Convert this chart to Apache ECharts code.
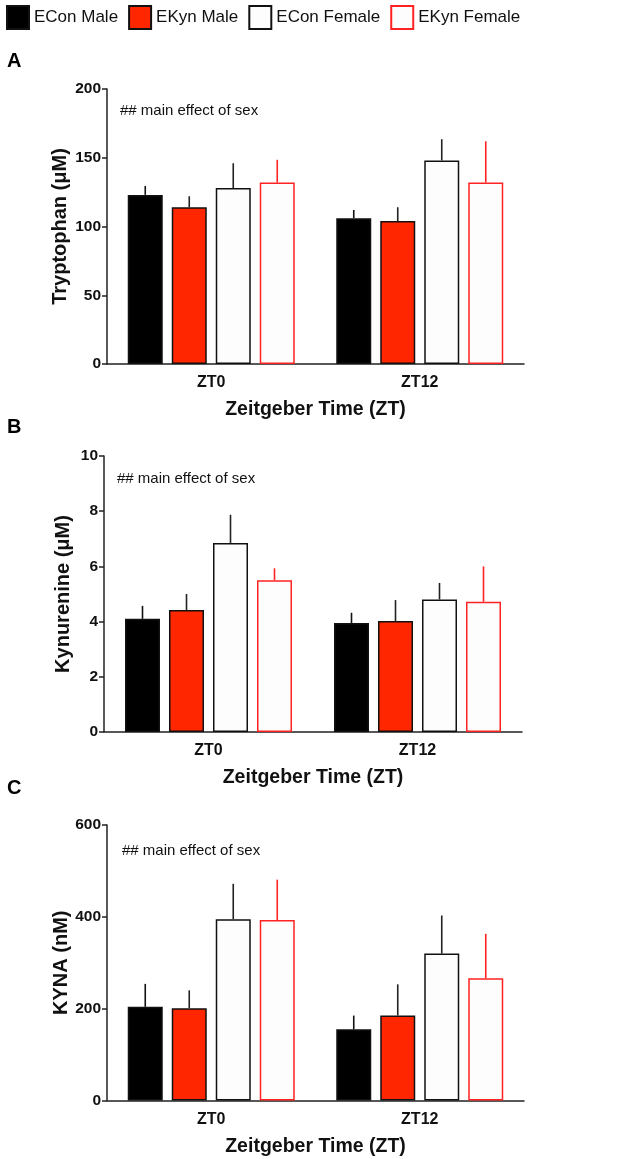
<!DOCTYPE html>
<html>
<head>
<meta charset="utf-8">
<script src="https://cdn.jsdelivr.net/npm/echarts@6/dist/echarts.min.js"></script>
<style>
html,body{margin:0;padding:0;background:#fff;}
#chart{width:630px;height:1159px;}
</style>
</head>
<body>
<div id="chart"></div>
<script>
// ---- data ----
const groups = ['ECon Male', 'EKyn Male', 'ECon Female', 'EKyn Female'];
const timepoints = ['ZT0', 'ZT12'];

// Tryptophan (uM): per group [ZT0, ZT12]
const trpMean = [[123, 106], [114, 104], [128, 148], [132, 132]];
const trpSem  = [[6.5, 6], [8, 10], [18, 15.5], [16.5, 30]];

// Kynurenine (uM)
const kynMean = [[4.1, 3.95], [4.42, 4.02], [6.85, 4.8], [5.5, 4.72]];
const kynSem  = [[0.47, 0.37], [0.58, 0.76], [1.02, 0.6], [0.43, 1.28]];

// KYNA (nM)
const kynaMean = [[204, 155], [201, 185], [395, 320], [393, 266]];
const kynaSem  = [[50, 30], [39, 68], [77, 83], [88, 97]];

const panelLetters = ['A', 'B', 'C'];
const yNames = ['Tryptophan (μM)', 'Kynurenine (μM)', 'KYNA (nM)'];
const yMax = [200, 10, 600];
const yInterval = [50, 2, 200];
const xName = 'Zeitgeber Time (ZT)';
const note = '## main effect of sex';

// ---- styles ----
const FONT = "'Liberation Sans', Arial, sans-serif";
const fills   = ['#000000', '#ff2600', '#fdfdfd', '#fdfdfd'];
const borders = ['#111111', '#111111', '#111111', '#ff2222'];
const errColors = ['#111111', '#222222', '#222222', '#ff2222'];
const BAR_W = 35, BAR_GAP = 9;
const offsets = groups.map((g, i) => (i - 1.5) * (BAR_W + BAR_GAP));

const grids = [
  { left: 107, right: 106, top: 89, bottom: 795 },
  { left: 104, right: 108, top: 456, bottom: 427 },
  { left: 107, right: 106, top: 825, bottom: 58.5 }
];
const yNameGaps = [37, 31, 36];
const noteX = [120, 117, 122];
const noteY = [111, 479, 851];
const letterY = [62, 428, 789];

const means = [trpMean, kynMean, kynaMean];
const sems = [trpSem, kynSem, kynaSem];

const xAxes = [], yAxes = [], series = [], graphics = [];
grids.forEach((g, p) => {
  xAxes.push({
    gridIndex: p, type: 'category', data: timepoints,
    name: xName, nameLocation: 'middle', nameGap: 36, nameMoveOverlap: false,
    nameTextStyle: { fontFamily: FONT, fontWeight: 'bold', fontSize: 19.5, color: '#111' },
    axisLine: { lineStyle: { color: '#222', width: 1.5 } },
    axisTick: { alignWithLabel: true, length: 5, lineStyle: { color: '#222', width: 1.5 } },
    axisLabel: { fontFamily: FONT, fontWeight: 'bold', fontSize: 16, color: '#111', margin: 11 }
  });
  yAxes.push({
    gridIndex: p, type: 'value', min: 0, max: yMax[p], interval: yInterval[p],
    name: yNames[p], nameLocation: 'middle', nameGap: yNameGaps[p], nameRotate: 90,
    nameMoveOverlap: false,
    nameTextStyle: { fontFamily: FONT, fontWeight: 'bold', fontSize: 20, color: '#111' },
    axisLine: { show: true, lineStyle: { color: '#222', width: 1.5 } },
    axisTick: { show: true, length: 5, lineStyle: { color: '#222', width: 1.5 } },
    axisLabel: { fontFamily: FONT, fontWeight: 'bold', fontSize: 15.5, color: '#111', margin: 6 },
    splitLine: { show: false }
  });
  groups.forEach((name, i) => {
    series.push({
      type: 'bar', name: name, xAxisIndex: p, yAxisIndex: p,
      data: means[p][i],
      barWidth: BAR_W, barGap: (BAR_GAP / BAR_W * 100) + '%',
      itemStyle: { color: fills[i], borderColor: borders[i], borderWidth: 1.5 },
      emphasis: { disabled: true },
      animation: false
    });
  });
  groups.forEach((name, i) => {
    const d = means[p][i].map((m, k) => [k, m, m + sems[p][i][k]]);
    series.push({
      type: 'custom', xAxisIndex: p, yAxisIndex: p,
      data: d, z: 5, animation: false,
      renderItem: function (params, api) {
        const a = api.coord([api.value(0), api.value(1)]);
        const b = api.coord([api.value(0), api.value(2)]);
        return {
          type: 'line',
          shape: { x1: a[0] + offsets[i], y1: a[1], x2: b[0] + offsets[i], y2: b[1] },
          style: { stroke: errColors[i], lineWidth: 1.6 }
        };
      }
    });
  });
  graphics.push({
    type: 'text', left: 7, top: letterY[p] - 11,
    style: { text: panelLetters[p], font: "bold 20px 'Liberation Sans', Arial", fill: '#000' }
  });
  graphics.push({
    type: 'text', x: noteX[p], y: noteY[p],
    style: { text: note, font: "15px 'Liberation Sans', Arial", fill: '#111', textVerticalAlign: 'middle' }
  });
});

const chart = echarts.init(document.getElementById('chart'), null, { renderer: 'canvas' });
chart.setOption({
  animation: false,
  backgroundColor: '#fff',
  legend: {
    data: groups, left: 6, top: 5, padding: 0, icon: 'rect',
    itemWidth: 22, itemHeight: 23, itemGap: 10,
    textStyle: { fontFamily: FONT, fontSize: 17, color: '#111' },
    selectedMode: false
  },
  grid: grids,
  xAxis: xAxes,
  yAxis: yAxes,
  series: series,
  graphic: graphics
});
</script>
</body>
</html>
